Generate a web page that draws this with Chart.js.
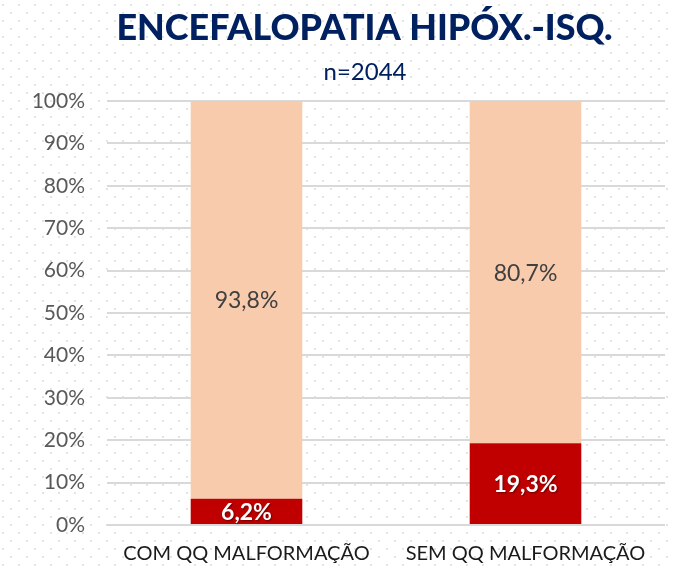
<!DOCTYPE html>
<html>
<head>
<meta charset="utf-8">
<script src="https://cdn.jsdelivr.net/npm/chart.js@4.4.1/dist/chart.umd.min.js"></script>
<style>
  html, body { margin: 0; padding: 0; background: #ffffff; }
  #wrap { width: 674px; height: 567px; position: relative; }
</style>
</head>
<body>
<div id="wrap"><canvas id="c" width="674" height="567"></canvas></div>
<script>
const titleText = 'ENCEFALOPATIA HIPÓX.-ISQ.';
const subtitleText = 'n=2044';
const categories = ['COM QQ MALFORMAÇÃO', 'SEM QQ MALFORMAÇÃO'];
const withCondition = [6.2, 19.3];
const withoutCondition = [93.8, 80.7];
const yTicks = [0, 10, 20, 30, 40, 50, 60, 70, 80, 90, 100];

const FONT = 'Lato, "Open Sans", sans-serif';
const fmt = v => v.toFixed(1).replace('.', ',') + '%';

const bgDots = {
  id: 'bgDots',
  beforeDraw(chart) {
    const ctx = chart.ctx;
    ctx.save();
    ctx.fillStyle = '#ffffff';
    ctx.fillRect(0, 0, chart.width, chart.height);
    ctx.fillStyle = '#e3e3e3';
    let r = 0;
    for (let y = 4; y < chart.height; y += 8, r++) {
      const off = (r % 2 === 0) ? 2 : 10;
      for (let x = off; x < chart.width; x += 16) {
        ctx.fillRect(x, y, 2, 2);
      }
    }
    ctx.restore();
  }
};

const titles = {
  id: 'titles',
  afterDraw(chart) {
    const ctx = chart.ctx;
    ctx.save();
    ctx.fillStyle = '#002060';
    ctx.textAlign = 'center';
    ctx.textBaseline = 'alphabetic';
    ctx.font = '900 36px ' + FONT;
    const w = ctx.measureText(titleText).width;
    const sx = 496 / w;
    ctx.translate(364.5, 40);
    ctx.scale(sx, 1);
    ctx.fillText(titleText, 0, 0);
    ctx.restore();
    ctx.save();
    ctx.fillStyle = '#002060';
    ctx.textAlign = 'center';
    ctx.font = '24px ' + FONT;
    ctx.fillText(subtitleText, 365, 80);
    ctx.restore();
  }
};

const barLabels = {
  id: 'barLabels',
  afterDatasetsDraw(chart) {
    const ctx = chart.ctx;
    chart.data.datasets.forEach((ds, di) => {
      const meta = chart.getDatasetMeta(di);
      meta.data.forEach((bar, i) => {
        const v = ds.data[i];
        const cy = (bar.y + bar.base) / 2;
        ctx.save();
        ctx.textAlign = 'center';
        ctx.textBaseline = 'middle';
        if (di === 0) {
          ctx.font = 'bold 23px ' + FONT;
          ctx.fillStyle = '#ffffff';
          ctx.shadowColor = 'rgba(0,0,0,0.45)';
          ctx.shadowOffsetX = 1;
          ctx.shadowOffsetY = 1;
          ctx.shadowBlur = 2;
        } else {
          ctx.font = '23px ' + FONT;
          ctx.fillStyle = '#404040';
        }
        ctx.fillText(fmt(v), bar.x, cy + 1);
        ctx.restore();
      });
    });
  }
};

new Chart(document.getElementById('c'), {
  type: 'bar',
  data: {
    labels: categories,
    datasets: [
      { data: withCondition, backgroundColor: '#C00000', barPercentage: 0.4, categoryPercentage: 1.0 },
      { data: withoutCondition, backgroundColor: '#F8CBAD', barPercentage: 0.4, categoryPercentage: 1.0 }
    ]
  },
  options: {
    responsive: false,
    animation: false,
    layout: { padding: { left: 0, right: 9, top: 101, bottom: 0 } },
    plugins: { legend: { display: false }, tooltip: { enabled: false }, title: { display: false } },
    scales: {
      x: {
        stacked: true,
        grid: { display: false, drawTicks: false },
        border: { display: false },
        ticks: { color: '#1a1a1a', font: { family: FONT, size: 20 }, padding: 17, maxRotation: 0 },
        afterFit(s) { s.height = 42; }
      },
      y: {
        stacked: true,
        min: 0, max: 100,
        afterBuildTicks(s) { s.ticks = yTicks.map(v => ({ value: v })); },
        grid: { color: '#d9d9d9', lineWidth: 2, drawTicks: false },
        border: { display: false },
        ticks: { color: '#595959', font: { family: FONT, size: 21 }, padding: 22, callback: v => v + '%' },
        afterFit(s) { s.width = 107; }
      }
    }
  },
  plugins: [bgDots, titles, barLabels]
});
</script>
</body>
</html>
